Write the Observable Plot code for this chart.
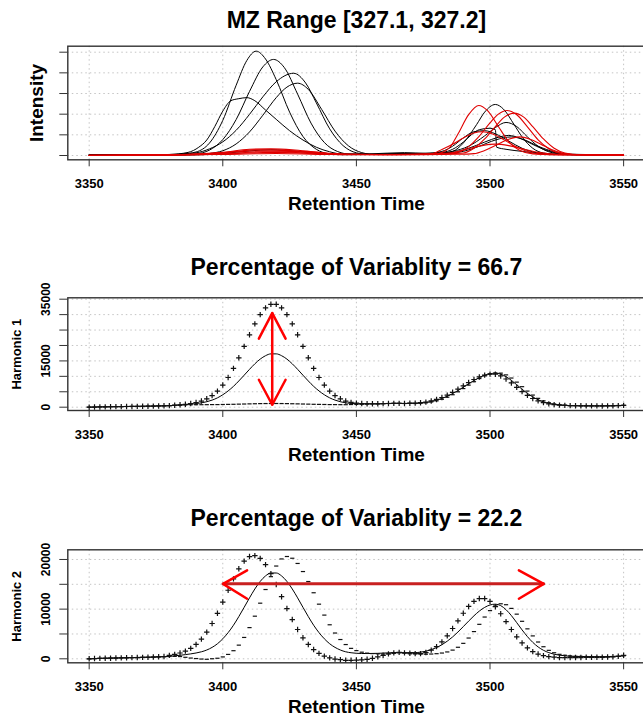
<!DOCTYPE html>
<html><head><meta charset="utf-8">
<script src="https://cdn.jsdelivr.net/npm/d3@7"></script>
<script src="https://cdn.jsdelivr.net/npm/@observablehq/plot@0.6"></script>
<style>
html,body{margin:0;padding:0;background:#fff;overflow:hidden;}
#wrap{width:643px;height:717px;overflow:hidden;position:relative;background:#fff;}
</style></head>
<body><div id="wrap"></div>
<script>
// ---------- shared ----------
const xTicks = [3350, 3400, 3450, 3500, 3550];
const xLabel = "Retention Time";
const titles = ["MZ Range [327.1, 327.2]", "Percentage of Variablity = 66.7", "Percentage of Variablity = 22.2"];
const yLabels = ["Intensity", "Harmonic 1", "Harmonic 2"];

// ---------- panel 1: chromatograms (intensity in units of 10,000) ----------
const intensityTicks = [0, 1, 2, 3, 4, 5];
const blackA = [[3350,0.02],[3370,0.03],[3380,0.05],[3385,0.08],[3390,0.17],[3395,0.6],[3400,1.7],[3405,3.4],[3409,4.6],[3412.5,5.05],[3416,4.67],[3420,3.67],[3425,2.1],[3430,0.92],[3435,0.3],[3440,0.08],[3445,0.04],[3460,0.06],[3470,0.1],[3478,0.1],[3482,0.12],[3486,0.2],[3490,0.6],[3495,1.5],[3498,2.1],[3502,2.47],[3505,2.25],[3509,1.5],[3512,0.9],[3516,0.35],[3520,0.12],[3526,0.05],[3540,0.04],[3550,0.04]];
const blackB = [[3350,0.02],[3375,0.03],[3385,0.04],[3390,0.08],[3395,0.26],[3400,0.77],[3405,1.74],[3410,3.1],[3415,4.29],[3419,4.65],[3423,4.26],[3428,2.97],[3433,1.57],[3438,0.63],[3443,0.19],[3448,0.06],[3460,0.05],[3470,0.08],[3480,0.1],[3486,0.2],[3492,0.45],[3498,0.95],[3502,1.35],[3506,1.6],[3510,1.4],[3514,0.9],[3518,0.45],[3522,0.18],[3528,0.06],[3540,0.04],[3550,0.03]];
const blackC = [[3350,0.02],[3380,0.04],[3390,0.13],[3395,0.32],[3400,0.66],[3405,1.22],[3410,1.99],[3415,2.84],[3420,3.57],[3426.5,3.98],[3431,3.51],[3435,2.55],[3440,1.29],[3445,0.48],[3450,0.13],[3455,0.05],[3465,0.08],[3475,0.1],[3482,0.15],[3486,0.3],[3490,0.65],[3493,1.0],[3496,1.25],[3500,1.32],[3502,1.25],[3502.5,0.4],[3506,0.3],[3512,0.2],[3520,0.08],[3530,0.04],[3550,0.03]];
const blackD = [[3350,0.02],[3385,0.03],[3390,0.05],[3395,0.1],[3400,0.23],[3405,0.56],[3410,1.14],[3415,1.95],[3420,2.8],[3424,3.31],[3428,3.5],[3432,3.2],[3437,2.23],[3442,1.18],[3447,0.47],[3452,0.14],[3457,0.05],[3470,0.1],[3480,0.1],[3486,0.15],[3492,0.35],[3498,0.65],[3503,0.88],[3507,0.97],[3511,0.85],[3515,0.6],[3520,0.3],[3525,0.12],[3532,0.04],[3550,0.03]];
const blackE = [[3350,0.02],[3370,0.03],[3380,0.05],[3387,0.15],[3391,0.4],[3394,0.75],[3397,1.4],[3400,2.15],[3403,2.65],[3406,2.75],[3409,2.8],[3412,2.65],[3416,2.2],[3420,1.75],[3425,1.2],[3430,0.75],[3435,0.4],[3440,0.18],[3445,0.07],[3455,0.08],[3468,0.14],[3476,0.1],[3482,0.2],[3486,0.45],[3490,0.85],[3494,1.15],[3498,1.2],[3502,1.05],[3507,0.7],[3512,0.35],[3518,0.12],[3525,0.05],[3550,0.03]];
const blackF = [[3350,0.02],[3390,0.03],[3400,0.1],[3410,0.22],[3418,0.28],[3428,0.2],[3440,0.08],[3460,0.05],[3480,0.06],[3490,0.2],[3496,0.45],[3502,0.75],[3508,0.9],[3513,0.75],[3518,0.45],[3524,0.18],[3530,0.06],[3550,0.03]];
const redA = [[3350,0.0],[3370,0.01],[3385,0.03],[3395,0.08],[3405,0.2],[3412,0.27],[3420,0.26],[3430,0.2],[3440,0.1],[3450,0.05],[3465,0.04],[3478,0.06],[3482,0.15],[3485,0.4],[3488,1.04],[3492,1.98],[3495.8,2.42],[3499,2.18],[3503,1.43],[3507,0.67],[3511,0.25],[3516,0.08],[3525,0.04],[3550,0.02]];
const redB = [[3350,0.01],[3380,0.03],[3395,0.1],[3405,0.18],[3415,0.22],[3425,0.2],[3435,0.12],[3445,0.06],[3460,0.04],[3475,0.05],[3484,0.1],[3488,0.16],[3492,0.43],[3496,0.94],[3500,1.58],[3503,1.99],[3506.4,2.18],[3510,1.97],[3514,1.39],[3518,0.76],[3522,0.33],[3526,0.11],[3532,0.04],[3550,0.02]];
const redC = [[3350,0.0],[3385,0.05],[3400,0.15],[3410,0.3],[3418,0.32],[3426,0.28],[3436,0.15],[3446,0.07],[3460,0.05],[3478,0.06],[3486,0.1],[3490,0.12],[3494,0.35],[3498,0.8],[3502,1.4],[3505.5,1.87],[3509,2.05],[3512.5,1.87],[3516,1.4],[3520,0.8],[3524,0.35],[3528,0.12],[3534,0.04],[3550,0.02]];
const redD = [[3350,0.01],[3390,0.04],[3405,0.12],[3415,0.18],[3425,0.16],[3435,0.1],[3445,0.05],[3465,0.05],[3478,0.08],[3482,0.29],[3486,0.54],[3490,0.85],[3494,1.09],[3497,1.15],[3501,1.04],[3505,0.78],[3509,0.47],[3513,0.24],[3518,0.08],[3530,0.03],[3550,0.02]];
const redE = [[3350,0.0],[3395,0.06],[3410,0.12],[3420,0.15],[3432,0.1],[3445,0.04],[3470,0.04],[3488,0.06],[3494,0.09],[3498,0.24],[3502,0.48],[3506,0.74],[3511,0.9],[3515,0.79],[3519,0.55],[3523,0.29],[3527,0.12],[3532,0.04],[3550,0.02]];
const redF = [[3350,0.01],[3400,0.05],[3420,0.1],[3440,0.05],[3470,0.05],[3485,0.12],[3492,0.33],[3497,0.48],[3502,0.55],[3507,0.48],[3512,0.33],[3518,0.15],[3525,0.06],[3550,0.02]];
const blackSeries = [blackA, blackB, blackC, blackD, blackE, blackF];
const redSeries = [redA, redB, redC, redD, redE, redF];

// ---------- panels 2 & 3: harmonics (values in thousands), evaluated every 2 s from 3350 ----------
const gridStart = 3350, gridStep = 2;
const meanCurve = [0.0,0.05,0.1,0.12,0.15,0.18,0.2,0.22,0.25,0.27,0.3,0.33,0.36,0.4,0.45,0.5,
0.61,0.71,0.84,0.99,1.17,1.41,1.77,2.3,3.03,4.03,5.27,6.76,8.5,10.37,12.27,14.06,15.58,16.69,17.28,17.28,16.69,15.58,14.06,12.27,10.37,8.5,6.76,5.27,4.03,3.03,2.3,1.77,1.41,1.22,1.11,1.07,1.06,1.08,
1.1,1.15,1.2,1.25,1.25,1.2,
1.25,1.24,1.34,1.52,1.84,2.26,2.83,3.55,4.4,5.39,6.48,7.59,8.66,9.61,10.35,10.84,11.0,10.71,9.89,8.7,7.28,5.82,4.47,3.31,2.39,1.71,1.24,0.92,0.73,0.61,
0.5,0.48,0.46,0.45,0.44,0.43,0.42,0.45,0.48,0.52,0.6];
const h1Plus = [0.0,0.05,0.08,0.12,0.15,0.17,0.2,0.22,0.25,0.28,0.3,0.33,0.36,0.4,0.45,0.5,
0.65,0.78,0.96,1.2,1.52,2.0,2.72,3.77,5.21,7.18,9.63,12.57,16.0,19.7,23.46,26.99,30.0,32.19,33.35,33.35,32.19,30.0,26.99,23.46,19.7,16.0,12.57,9.63,7.18,5.21,3.77,2.72,2.0,1.57,1.32,1.19,1.13,1.12,
1.1,1.15,1.2,1.25,1.25,1.2,
1.29,1.31,1.45,1.66,2.03,2.51,3.14,3.91,4.82,5.84,6.91,7.98,8.97,9.8,10.4,10.72,10.67,10.13,9.14,7.86,6.45,5.07,3.84,2.82,2.04,1.48,1.09,0.84,0.68,0.59,
0.5,0.47,0.45,0.44,0.43,0.42,0.4,0.42,0.46,0.5,0.6];
const h1Minus = [0.0,0.04,0.1,0.12,0.14,0.18,0.2,0.23,0.25,0.27,0.3,0.33,0.37,0.4,0.45,0.5,
0.58,0.65,0.72,0.79,0.81,0.81,0.82,0.84,0.85,0.88,0.91,0.94,0.99,1.03,1.08,1.12,1.16,1.18,1.2,1.2,1.18,1.16,1.12,1.08,1.03,0.99,0.94,0.91,0.88,0.85,0.84,0.82,0.81,0.86,0.9,0.95,1.0,1.05,
1.1,1.15,1.2,1.25,1.25,1.2,
1.23,1.2,1.27,1.42,1.69,2.07,2.58,3.23,4.04,4.98,6.03,7.15,8.26,9.29,10.16,10.79,11.12,11.04,10.47,9.45,8.12,6.65,5.22,3.93,2.87,2.06,1.47,1.07,0.82,0.66,
0.5,0.49,0.47,0.46,0.45,0.44,0.44,0.47,0.5,0.55,0.62];
const h2Plus = [0.0,0.05,0.08,0.1,0.12,0.15,0.18,0.2,0.23,0.25,0.28,0.3,0.35,0.4,0.45,
0.69,0.89,1.17,1.54,2.1,2.89,3.97,5.37,7.11,9.16,11.43,13.8,16.1,18.12,19.67,20.59,20.78,20.21,18.96,17.15,14.97,12.51,10.12,7.9,5.9,4.23,2.89,1.86,1.09,0.54,0.19,-0.05,-0.16,-0.3,-0.3,-0.25,-0.2,-0.1,0.1,0.4,0.7,1.0,1.2,1.3,1.2,
1.13,1.04,1.04,1.26,1.75,2.45,3.39,4.63,6.1,7.64,9.17,10.54,11.57,12.13,12.13,11.57,10.49,9.07,7.49,5.9,4.43,3.19,2.2,1.45,0.96,0.64,0.44,0.33,0.25,0.25,
0.25,0.25,0.25,0.3,0.3,0.3,0.3,0.35,0.4,0.5,0.7];
const h2Minus = [0.0,0.04,0.08,0.1,0.13,0.15,0.18,0.2,0.22,0.25,0.28,0.3,0.34,0.38,0.42,0.46,0.48,
0.45,0.3,0.15,0.05,-0.05,-0.1,0.01,0.11,0.38,0.88,1.63,2.75,4.3,6.28,8.58,11.2,13.95,16.54,18.68,20.11,20.6,20.25,19.2,17.57,15.56,13.3,11.0,8.8,6.85,5.19,3.88,2.87,2.1,1.65,1.33,1.14,1.05,
1.01,0.95,1.0,1.1,1.2,1.15,
1.0,1.0,0.95,0.93,0.96,1.03,1.16,1.38,1.75,2.32,3.11,4.18,5.48,6.94,8.41,9.7,10.65,11.08,10.89,10.15,8.99,7.55,6.03,4.61,3.38,2.43,1.7,1.22,0.9,0.71,
0.59,0.5,0.48,0.45,0.43,0.42,0.42,0.43,0.45,0.5,0.6];
const h1Ticks = [0, 5, 10, 15, 20, 25, 30, 35];
const h1TickLabels = [0, 15, 35];
const h2Ticks = [0, 5, 10, 15, 20];
const h2TickLabels = [0, 10, 20];

// ---------- red arrows (annotation, data coordinates) ----------
const arrow1Shaft = [[3418.5, 0.8], [3418.5, 30.5]];
const arrow1Heads = [[[3413.5, 22.2], [3418.5, 30.5], [3423.5, 22.2]], [[3413.5, 8.9], [3418.5, 0.8], [3423.5, 8.9]]];
const arrow2Shaft = [[3400.1, 15.1], [3520.1, 15.1]];
const arrow2Heads = [[[3409.1, 17.8], [3400.1, 15.1], [3409.1, 12.1]], [[3510.8, 17.8], [3520.1, 15.1], [3510.8, 12.1]]];

// ---------- helpers ----------
const wrap = document.getElementById("wrap");
const W = 645, ML = 67.3, MR = 0.5;
const xDomain = [3342, 3558];
const FONT = '"Liberation Sans", Arial, Helvetica, sans-serif';

// stroked "+" and "-" point symbols (like R's pch "+" / "-")
const plusSymbol = {draw(ctx, size) { const r = Math.sqrt(size / Math.PI); ctx.moveTo(-r, 0); ctx.lineTo(r, 0); ctx.moveTo(0, -r); ctx.lineTo(0, r); }};
const dashSymbol = {draw(ctx, size) { const r = Math.sqrt(size / Math.PI); ctx.moveTo(-r, 0); ctx.lineTo(r, 0); }};

function seriesRows(list, prefix) {
  const rows = [];
  list.forEach((s, i) => s.forEach(([t, v]) => rows.push({id: prefix + i, t, v})));
  return rows;
}
function gridRows(values) {
  return values.map((v, i) => ({t: gridStart + i * gridStep, v}));
}
function polyRows(polys) {
  const rows = [];
  polys.forEach((p, i) => p.forEach(([t, v]) => rows.push({id: i, t, v})));
  return rows;
}

function panel(o) {
  const svg = Plot.plot({
    width: W, height: o.height,
    marginLeft: ML, marginRight: MR, marginTop: o.mt, marginBottom: o.mb,
    x: {domain: xDomain},
    y: {domain: o.yDomain},
    style: {fontFamily: FONT, fontWeight: "bold", fontSize: "13px", color: "#000", background: "transparent", maxWidth: "none", overflow: "visible"},
    marks: [
      Plot.gridX(xTicks, {stroke: "#c4c4c4", strokeOpacity: 1, strokeDasharray: "1.5,3"}),
      Plot.gridY(o.yTicks, {stroke: "#c4c4c4", strokeOpacity: 1, strokeDasharray: "1.5,3"}),
      ...o.marks,
      Plot.frame({stroke: "#333", strokeWidth: 1.4}),
      Plot.axisX(xTicks, {tickSize: 7, tickPadding: 12, fontSize: 13, tickFormat: d => String(d), label: null, stroke: "#333"}),
      Plot.axisY(o.yTicks, {tickSize: 8, tickFormat: () => "", label: null, stroke: "#333"}),
      Plot.text(o.yTickLabels, {y: d => d, frameAnchor: "left", textAnchor: "middle", lineAnchor: "middle", dx: -21.8, rotate: -90, text: d => String(d * o.labelScale), fontSize: 12}),
      Plot.text([o.title], {frameAnchor: "top", textAnchor: "middle", lineAnchor: "middle", dy: o.titleDy, text: d => d, fontSize: 23}),
      Plot.text([xLabel], {frameAnchor: "bottom", textAnchor: "middle", lineAnchor: "middle", dy: 44, text: d => d, fontSize: 19}),
      Plot.text([o.ylab], {frameAnchor: "left", textAnchor: "middle", lineAnchor: "middle", dx: o.ylabDx, rotate: -90, text: d => d, fontSize: o.ylabSize})
    ]
  });
  svg.style.position = "absolute";
  svg.style.left = "0px";
  svg.style.top = o.top + "px";
  wrap.appendChild(svg);
}

function harmonicMarks(plus, minus) {
  return [
    Plot.line(gridRows(meanCurve), {x: "t", y: "v", stroke: "#000", strokeWidth: 1, curve: "monotone-x"}),
    Plot.dot(gridRows(minus), {x: "t", y: "v", symbol: dashSymbol, r: 2.1, fill: "none", stroke: "#111", strokeWidth: 1.2}),
    Plot.dot(gridRows(plus), {x: "t", y: "v", symbol: plusSymbol, r: 2.7, fill: "none", stroke: "#111", strokeWidth: 1.2})
  ];
}

// ---------- panel 1 ----------
panel({
  top: 0, height: 240, mt: 45.7, mb: 80.7,
  yDomain: [-0.208, 5.29], yTicks: intensityTicks, yTickLabels: [], labelScale: 1,
  title: titles[0], titleDy: -26, ylab: yLabels[0], ylabDx: -30.6, ylabSize: 19,
  marks: [
    Plot.line(seriesRows(blackSeries, "b"), {x: "t", y: "v", z: "id", stroke: "#000", strokeWidth: 1, curve: "monotone-x"}),
    Plot.line(seriesRows(redSeries, "r"), {x: "t", y: "v", z: "id", stroke: "#e00000", strokeWidth: 1.1, curve: "monotone-x"})
  ]
});

// ---------- panel 2 ----------
panel({
  top: 240, height: 250, mt: 57.3, mb: 80,
  yDomain: [-1.07, 35.45], yTicks: h1Ticks, yTickLabels: h1TickLabels, labelScale: 1000,
  title: titles[1], titleDy: -30, ylab: yLabels[1], ylabDx: -50.6, ylabSize: 13,
  marks: [
    ...harmonicMarks(h1Plus, h1Minus),
    Plot.line(arrow1Shaft.map(([t, v]) => ({t, v})), {x: "t", y: "v", stroke: "#ff0000", strokeWidth: 2.5}),
    Plot.line(polyRows(arrow1Heads), {x: "t", y: "v", z: "id", stroke: "#ff0000", strokeWidth: 2.5, strokeLinejoin: "miter"})
  ]
});

// ---------- panel 3 ----------
panel({
  top: 490, height: 227, mt: 59.3, mb: 54.7,
  yDomain: [-0.806, 21.95], yTicks: h2Ticks, yTickLabels: h2TickLabels, labelScale: 1000,
  title: titles[2], titleDy: -31, ylab: yLabels[2], ylabDx: -50.6, ylabSize: 13,
  marks: [
    ...harmonicMarks(h2Plus, h2Minus),
    Plot.line(arrow2Shaft.map(([t, v]) => ({t, v})), {x: "t", y: "v", stroke: "#c82020", strokeWidth: 3}),
    Plot.line(polyRows(arrow2Heads), {x: "t", y: "v", z: "id", stroke: "#ff0000", strokeWidth: 2.5, strokeLinejoin: "miter"})
  ]
});
</script>
</body></html>
